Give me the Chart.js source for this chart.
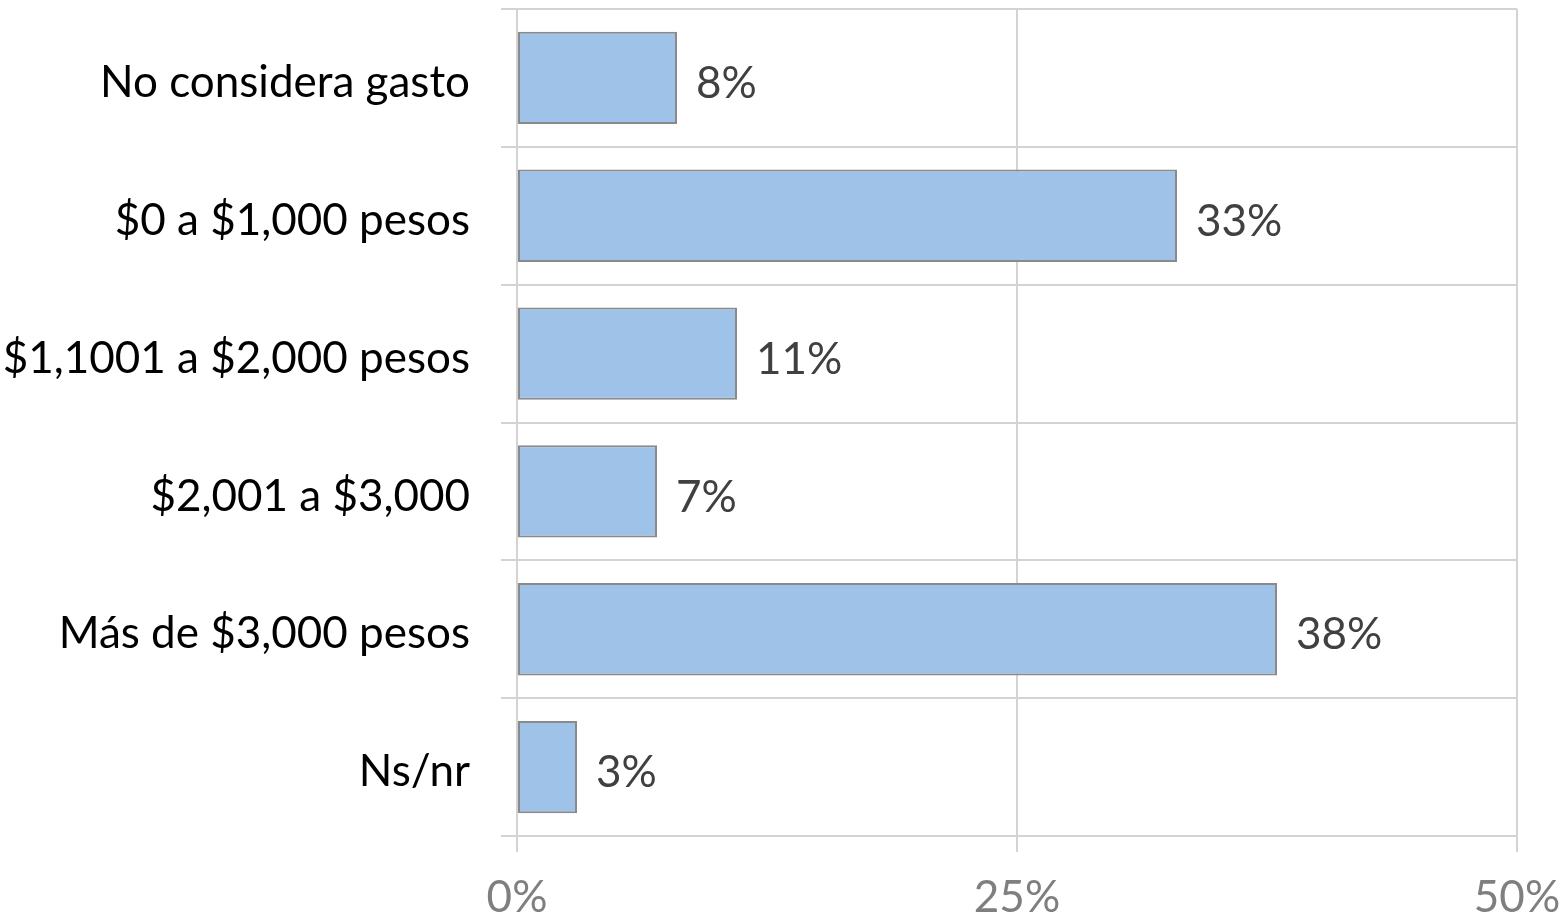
<!DOCTYPE html>
<html lang="es">
<head>
    <meta charset="UTF-8">
    <title>Gasto</title>
    <script src="https://cdn.jsdelivr.net/npm/chart.js"></script>
    <style>
        html, body { margin: 0; padding: 0; background: #fff; }
        #wrap { width: 1568px; height: 920px; }
    </style>
</head>
<body>
    <div id="wrap"><canvas id="chart"></canvas></div>
    <script>
        const categories = ['No considera gasto', '$0 a $1,000 pesos', '$1,1001 a $2,000 pesos', '$2,001 a $3,000', 'Más de $3,000 pesos', 'Ns/nr'];
        const values = [8, 33, 11, 7, 38, 3];
        const axisTicks = [0, 25, 50];

        const FONT = 'Lato, "Open Sans", sans-serif';
        const GRID = '#d3d3d3';

        // draws the "8%" style labels past the end of each bar
        const valueLabels = {
            id: 'valueLabels',
            afterDatasetsDraw(chart) {
                const ctx = chart.ctx;
                const meta = chart.getDatasetMeta(0);
                ctx.save();
                ctx.font = '44px ' + FONT;
                ctx.fillStyle = '#404040';
                ctx.textAlign = 'left';
                ctx.textBaseline = 'middle';
                meta.data.forEach((bar, i) => {
                    ctx.fillText(values[i] + '%', bar.x + 19, bar.y + 6);
                });
                ctx.restore();
            }
        };

        new Chart(document.getElementById('chart'), {
            type: 'bar',
            data: {
                labels: categories,
                datasets: [{
                    data: values,
                    backgroundColor: '#9fc2e9',
                    borderColor: '#8a8a8a',
                    borderWidth: 2,
                    borderSkipped: false,
                    categoryPercentage: 1,
                    barPercentage: 0.67
                }]
            },
            options: {
                indexAxis: 'y',
                responsive: true,
                maintainAspectRatio: false,
                animation: false,
                layout: { padding: { top: 9, right: 51, left: 0, bottom: 0 } },
                plugins: {
                    legend: { display: false },
                    tooltip: { enabled: false }
                },
                scales: {
                    x: {
                        min: 0,
                        max: 50,
                        afterBuildTicks(axis) {
                            axis.ticks = axisTicks.map(v => ({ value: v }));
                        },
                        ticks: {
                            callback: v => v + '%',
                            color: '#7f7f7f',
                            font: { family: FONT, size: 44 },
                            padding: 19,
                            maxRotation: 0
                        },
                        grid: { color: GRID, lineWidth: 2, tickLength: 16 },
                        border: { color: GRID, width: 2 },
                        afterFit(axis) {
                            axis.height = 84;
                            axis.paddingLeft = 0;
                            axis.paddingRight = 0;
                        }
                    },
                    y: {
                        ticks: {
                            color: '#000',
                            font: { family: FONT, size: 44 },
                            padding: 31,
                            labelOffset: 5
                        },
                        grid: { color: GRID, lineWidth: 2, tickLength: 16, offset: true },
                        border: { color: GRID, width: 2 },
                        afterFit(axis) {
                            axis.width = 517;
                            axis.paddingTop = 0;
                            axis.paddingBottom = 0;
                        }
                    }
                }
            },
            plugins: [valueLabels]
        });
    </script>
</body>
</html>
